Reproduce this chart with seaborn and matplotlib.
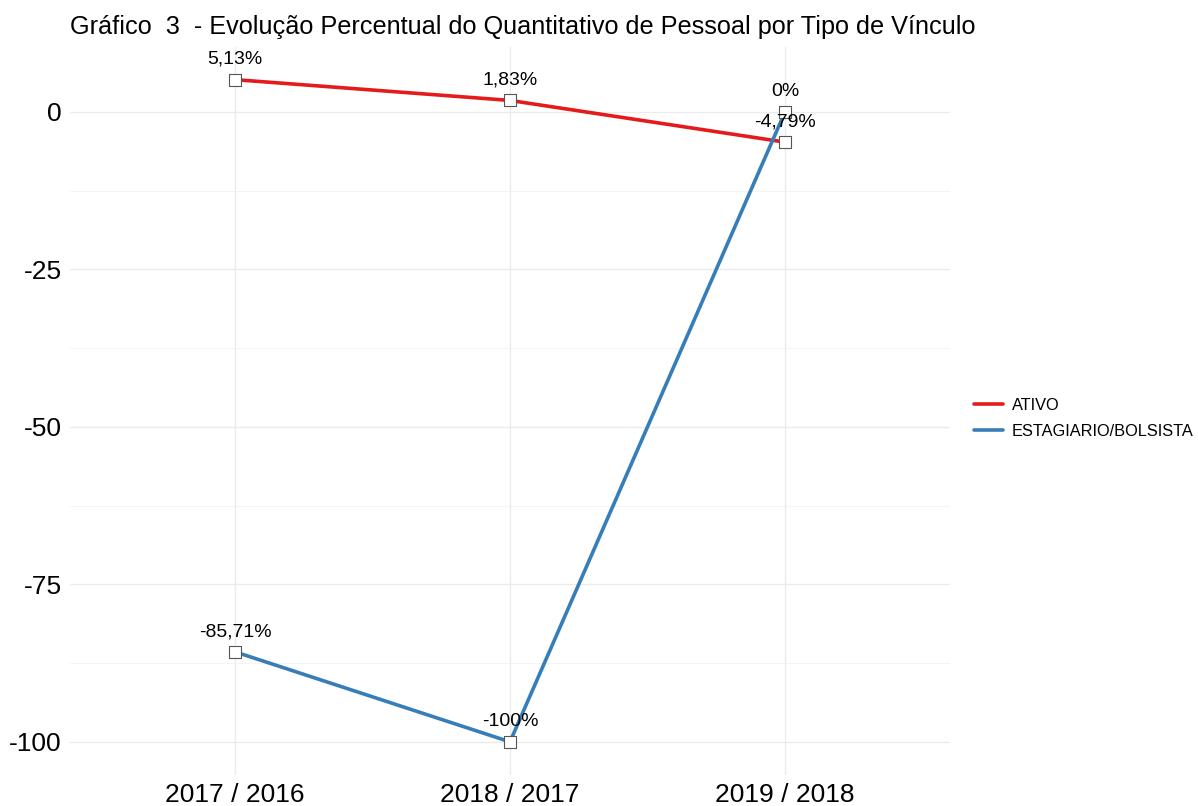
import pandas as pd
import matplotlib
matplotlib.use('Agg')
import matplotlib.pyplot as plt
import seaborn as sns
from matplotlib.lines import Line2D

# Dados do gráfico
periodos = ['2017 / 2016', '2018 / 2017', '2019 / 2018']
ativo = [5.13, 1.83, -4.79]
estagiario = [-85.71, -100.0, 0.0]
rotulos_ativo = ['5,13%', '1,83%', '-4,79%']
rotulos_estagiario = ['-85,71%', '-100%', '0%']
yticks = [0, -25, -50, -75, -100]

df = pd.DataFrame({
    'Periodo': periodos * 2,
    'Valor': ativo + estagiario,
    'Vinculo': ['ATIVO'] * 3 + ['ESTAGIARIO/BOLSISTA'] * 3,
    'Rotulo': rotulos_ativo + rotulos_estagiario,
})

cores = {'ATIVO': '#E41A1C', 'ESTAGIARIO/BOLSISTA': '#377EB8'}

sns.set_style('white')
plt.rcParams['font.family'] = ['Liberation Sans', 'DejaVu Sans']
plt.rcParams['axes.unicode_minus'] = False
plt.rcParams['text.color'] = 'black'

fig = plt.figure(figsize=(11.98, 8.06), dpi=100)
ax = fig.add_axes([0.0584, 0.0385, 0.7346, 0.9038])

sns.lineplot(data=df, x='Periodo', y='Valor', hue='Vinculo', palette=cores,
             linewidth=2.6, legend=False, ax=ax, zorder=3)
sns.scatterplot(data=df, x='Periodo', y='Valor', marker='s', s=75,
                color='white', edgecolor='#555555', linewidth=0.8,
                legend=False, ax=ax, zorder=4)

for _, linha in df.iterrows():
    ax.annotate(linha['Rotulo'], (linha['Periodo'], linha['Valor']),
                xytext=(0, 14.5), textcoords='offset points',
                ha='center', va='center', fontsize=14, color='black', zorder=5)

ax.set_xlim(-0.6, 2.6)
ax.set_ylim(-105.26, 10.39)
ax.set_yticks(yticks)
ax.set_yticklabels([str(v) for v in yticks])
ax.set_yticks([-12.5, -37.5, -62.5, -87.5], minor=True)
ax.grid(True, which='major', color='#EBEBEB', linewidth=1.0)
ax.grid(True, which='minor', color='#F2F2F2', linewidth=0.6)
ax.set_axisbelow(True)
for s in ax.spines.values():
    s.set_visible(False)
ax.tick_params(axis='both', which='both', length=0, labelsize=19, colors='black', pad=6)
ax.set_xlabel('')
ax.set_ylabel('')

fig.text(0.0584, 0.967, 'Gráfico  3  - Evolução Percentual do Quantitativo de Pessoal por Tipo de Vínculo',
         fontsize=18.2, ha='left', va='center', color='black')

handles = [Line2D([0], [0], color=cores[k], linewidth=2.6) for k in cores]
fig.legend(handles, list(cores.keys()), loc='center left', bbox_to_anchor=(0.813, 0.481),
           frameon=False, fontsize=11.8, handlelength=1.8, handletextpad=0.5,
           labelspacing=0.7, borderpad=0, borderaxespad=0)

fig.savefig('out.png', dpi=100)
